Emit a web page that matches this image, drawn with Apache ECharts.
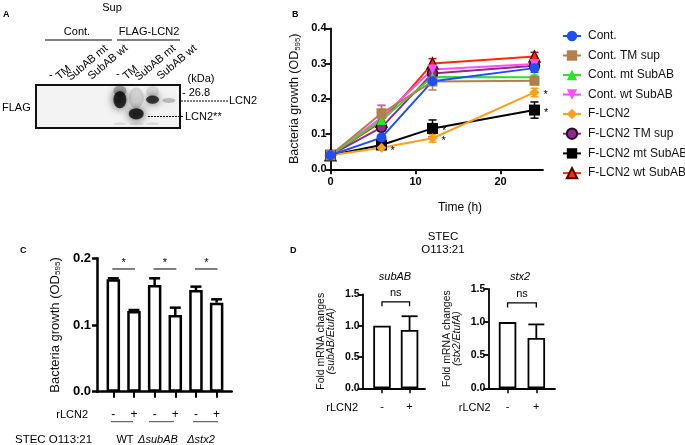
<!DOCTYPE html>
<html><head><meta charset="utf-8">
<script src="https://cdn.jsdelivr.net/npm/echarts@6/dist/echarts.min.js"></script>
<style>html,body{margin:0;padding:0;background:#fff}#c{width:685px;height:445px}</style>
</head><body><div id="c"></div>
<script>
// ---------- DATA ----------
// Panel A (western blot, relative band positions within the membrane: 0 = bottom, 1 = top)
const blotLaneLabels = ['-', 'TM', 'SubAB mt', 'SubAB wt', '-', 'TM', 'SubAB mt', 'SubAB wt'];
const blotBandLane    = [4, 4, 5, 5, 6, 6, 7, 4, 5, 6];
const blotBandPos     = [0.66, 0.86, 0.33, 0.70, 0.66, 0.85, 0.64, 0.10, 0.10, 0.10];
const blotBandSpread  = [0.40, 0.26, 0.26, 0.50, 0.19, 0.26, 0.12, 0.07, 0.07, 0.07];
const blotBandDensity = [0.95, 0.35, 0.97, 0.16, 0.9, 0.12, 0.28, 0.12, 0.12, 0.12];

// Panel B (growth curves)
const timeH = [0, 6, 12, 24];
const seriesNames = ['Cont.', 'Cont. TM sup', 'Cont. mt SubAB', 'Cont. wt SubAB', 'F-LCN2', 'F-LCN2 TM sup', 'F-LCN2 mt SubAB', 'F-LCN2 wt SubAB'];
const contMean   = [0.04, 0.090, 0.250, 0.287];
const contErr    = [0.003, 0.008, 0.010, 0.012];
const contTmMean = [0.04, 0.159, 0.249, 0.251];
const contTmErr  = [0.003, 0.022, 0.024, 0.006];
const contMtMean = [0.04, 0.140, 0.262, 0.261];
const contMtErr  = [0.003, 0.012, 0.010, 0.006];
const contWtMean = [0.04, 0.147, 0.283, 0.299];
const contWtErr  = [0.003, 0.035, 0.010, 0.008];
const flcnMean   = [0.04, 0.061, 0.088, 0.218];
const flcnErr    = [0.003, 0.005, 0.011, 0.012];
const flcnTmMean = [0.04, 0.119, 0.272, 0.294];
const flcnTmErr  = [0.003, 0.010, 0.010, 0.008];
const flcnMtMean = [0.04, 0.069, 0.116, 0.168];
const flcnMtErr  = [0.003, 0.006, 0.024, 0.023];
const flcnWtMean = [0.04, 0.135, 0.300, 0.320];
const flcnWtErr  = [0.003, 0.010, 0.014, 0.012];
const flcnStarIdx   = [1, 2, 3];
const flcnMtStarIdx = [2, 3];
const bTicksX = [0, 10, 20];

// Panel C
const cGroups = ['WT', '\u0394subAB', '\u0394stx2'];
const cRlcn2  = ['-', '+', '-', '+', '-', '+'];
const cMeans  = [0.1685, 0.121, 0.160, 0.115, 0.1525, 0.1335];
const cErrs   = [0.0015, 0.0015, 0.010, 0.011, 0.005, 0.005];
const cSigPairs = [[0, 1, '*'], [2, 3, '*'], [4, 5, '*']];
const cSigLevel = 0.184;

// Panel D
const dRlcn2 = ['-', '+'];
const subabMeans = [1.0, 0.93];
const subabErrs  = [0, 0.22];
const stx2Means  = [1.0, 0.76];
const stx2Errs   = [0, 0.205];
const subabSig = [[0, 1, 'ns']];
const stx2Sig  = [[0, 1, 'ns']];
const subabSigLevel = [1.38, 1.31];
const stx2SigLevel  = [1.29, 1.22];

// ---------- RENDER ----------
const FONT = '"Liberation Sans", Arial, Helvetica, sans-serif';
const chart = echarts.init(document.getElementById('c'), null, {renderer: 'canvas'});

const bMeans = [contMean, contTmMean, contMtMean, contWtMean, flcnMean, flcnTmMean, flcnMtMean, flcnWtMean];
const bErrs  = [contErr, contTmErr, contMtErr, contWtErr, flcnErr, flcnTmErr, flcnMtErr, flcnWtErr];
const bStars = [[], [], [], [], flcnStarIdx, [], flcnMtStarIdx, []];
const bStyles = [
  {color: '#1f4ef5', symbol: 'circle', size: 10},
  {color: '#b0814f', symbol: 'rect', size: 10},
  {color: '#2fe02f', symbol: 'triangle', size: 10},
  {color: '#ff4dff', symbol: 'triangle', size: 10, rotate: 180},
  {color: '#ff9f1c', symbol: 'diamond', size: 10},
  {color: '#8e2a8e', symbol: 'circle', size: 10, border: '#2a062a'},
  {color: '#000000', symbol: 'rect', size: 11},
  {color: '#ff2a00', symbol: 'triangle', size: 11, border: '#4a0800'}
];

function axisBase(w) {
  return {
    axisLine: {show: true, onZero: false, lineStyle: {color: '#000', width: w}},
    axisTick: {show: true, length: 5, lineStyle: {color: '#000', width: w}},
    splitLine: {show: false}
  };
}

function errTwoSided(color) {
  return function (params, api) {
    const x = api.value(0), m = api.value(1), e = api.value(2);
    if (!e) return null;
    const p1 = api.coord([x, m + e]), p2 = api.coord([x, m - e]);
    const cw = 4, st = {stroke: color, lineWidth: 1.5};
    return {type: 'group', children: [
      {type: 'line', shape: {x1: p1[0], y1: p1[1], x2: p2[0], y2: p2[1]}, style: st},
      {type: 'line', shape: {x1: p1[0] - cw, y1: p1[1], x2: p1[0] + cw, y2: p1[1]}, style: st},
      {type: 'line', shape: {x1: p2[0] - cw, y1: p2[1], x2: p2[0] + cw, y2: p2[1]}, style: st}
    ]};
  };
}
function errUp(cw, lw) {
  return function (params, api) {
    const x = api.value(0), m = api.value(1), e = api.value(2);
    if (!e) return null;
    const p1 = api.coord([x, m]), p2 = api.coord([x, m + e]);
    const st = {stroke: '#000', lineWidth: lw};
    return {type: 'group', children: [
      {type: 'line', shape: {x1: p1[0], y1: p1[1], x2: p2[0], y2: p2[1]}, style: st},
      {type: 'line', shape: {x1: p2[0] - cw, y1: p2[1], x2: p2[0] + cw, y2: p2[1]}, style: st}
    ]};
  };
}
function sigLine(color, lw, fs) {
  return function (params, api) {
    const a = api.value(0), b = api.value(1);
    const p1 = api.coord([a, cSigLevel]), p2 = api.coord([b, cSigLevel]);
    return {type: 'group', children: [
      {type: 'line', shape: {x1: p1[0] - 1, y1: p1[1], x2: p2[0] + 1, y2: p2[1]}, style: {stroke: color, lineWidth: lw}},
      {type: 'text', x: (p1[0] + p2[0]) / 2, y: p1[1] - 1, style: {text: cSigPairs[params.dataIndex][2], fontSize: fs, fontFamily: FONT, fill: '#000', align: 'center', verticalAlign: 'bottom'}}
    ]};
  };
}
function bracket(levels, labels) {
  return function (params, api) {
    const a = api.value(0), b = api.value(1);
    const t1 = api.coord([a, levels[0]]), t2 = api.coord([b, levels[0]]);
    const l1 = api.coord([a, levels[1]]), l2 = api.coord([b, levels[1]]);
    return {type: 'group', children: [
      {type: 'polyline', shape: {points: [[l1[0], l1[1]], [t1[0], t1[1]], [t2[0], t2[1]], [l2[0], l2[1]]]}, style: {stroke: '#000', lineWidth: 1.3, fill: null}},
      {type: 'text', x: (t1[0] + t2[0]) / 2, y: t1[1] - 3, style: {text: labels[params.dataIndex][2], fontSize: 11, fontFamily: FONT, fill: '#000', align: 'center', verticalAlign: 'bottom'}}
    ]};
  };
}

const series = [];
// Blot
series.push({
  type: 'scatter', xAxisIndex: 0, yAxisIndex: 0, silent: true, symbol: 'circle',
  data: blotBandLane.map((l, i) => ({
    value: [l, blotBandPos[i]],
    symbolSize: [l === 5 ? 15 : 13, Math.max(3, blotBandSpread[i] * 43)],
    itemStyle: {color: 'rgba(0,0,0,' + blotBandDensity[i] + ')', shadowBlur: 8, shadowColor: 'rgba(0,0,0,' + blotBandDensity[i] + ')'}
  }))
});
// B error bars and lines (reverse order so "Cont." drawn on top)
for (let k = bMeans.length - 1; k >= 0; k--) {
  const st = bStyles[k];
  series.push({
    type: 'custom', name: seriesNames[k] + ' err', xAxisIndex: 1, yAxisIndex: 1, silent: true, z: 2,
    renderItem: errTwoSided(st.color === '#ff2a00' ? '#d01800' : st.color),
    data: timeH.map((t, i) => [t, bMeans[k][i], bErrs[k][i]])
  });
}
for (let k = bMeans.length - 1; k >= 0; k--) {
  const st = bStyles[k];
  series.push({
    type: 'line', name: seriesNames[k], xAxisIndex: 1, yAxisIndex: 1, z: 3,
    symbol: st.symbol, symbolSize: st.size, symbolRotate: st.rotate || 0, showAllSymbol: true,
    color: st.color,
    lineStyle: {color: st.color, width: 2},
    itemStyle: {color: st.color, borderColor: st.border || st.color, borderWidth: st.border ? 1.5 : 0, opacity: 1},
    emphasis: {disabled: true},
    data: timeH.map((t, i) => {
      const item = {value: [t, bMeans[k][i]]};
      if (bStars[k].indexOf(i) >= 0) {
        item.label = {show: true, formatter: '*', position: 'right', distance: 4, fontSize: 11, color: '#000', offset: [0, 3], fontFamily: FONT};
      }
      return item;
    })
  });
}
// C
series.push({
  type: 'bar', xAxisIndex: 2, yAxisIndex: 2, barWidth: 13.5, silent: true,
  itemStyle: {color: '#fff', borderColor: '#000', borderWidth: 2.5},
  data: cMeans.map((v, i) => [i, v])
});
series.push({type: 'custom', xAxisIndex: 2, yAxisIndex: 2, silent: true, z: 3, renderItem: errUp(5.5, 2.5), data: cMeans.map((v, i) => [i, v, cErrs[i]])});
series.push({type: 'custom', xAxisIndex: 2, yAxisIndex: 2, silent: true, renderItem: sigLine('#555', 1.5, 11), data: cSigPairs.map(p => [p[0], p[1]])});
// D1
series.push({
  type: 'bar', xAxisIndex: 3, yAxisIndex: 3, barWidth: 17.5, silent: true,
  itemStyle: {color: '#fff', borderColor: '#000', borderWidth: 1.8},
  data: subabMeans.map((v, i) => [i, v])
});
series.push({type: 'custom', xAxisIndex: 3, yAxisIndex: 3, silent: true, z: 3, renderItem: errUp(8, 1.8), data: subabMeans.map((v, i) => [i, v, subabErrs[i]])});
series.push({type: 'custom', xAxisIndex: 3, yAxisIndex: 3, silent: true, renderItem: bracket(subabSigLevel, subabSig), data: subabSig.map(p => [p[0], p[1]])});
// D2
series.push({
  type: 'bar', xAxisIndex: 4, yAxisIndex: 4, barWidth: 17.5, silent: true,
  itemStyle: {color: '#fff', borderColor: '#000', borderWidth: 1.8},
  data: stx2Means.map((v, i) => [i, v])
});
series.push({type: 'custom', xAxisIndex: 4, yAxisIndex: 4, silent: true, z: 3, renderItem: errUp(8, 1.8), data: stx2Means.map((v, i) => [i, v, stx2Errs[i]])});
series.push({type: 'custom', xAxisIndex: 4, yAxisIndex: 4, silent: true, renderItem: bracket(stx2SigLevel, stx2Sig), data: stx2Sig.map(p => [p[0], p[1]])});

const odName = '{a|Bacteria growth (OD}{s|595}{a|)}';
function odRich(fs) {
  return {
    a: {fontSize: fs, fontFamily: FONT, color: '#111'},
    s: {fontSize: fs * 0.62, fontFamily: FONT, color: '#111', verticalAlign: 'bottom', padding: [fs * 0.35, 0, 0, 0]}
  };
}
function foldRich() {
  return {
    i: {fontSize: 10.5, fontFamily: FONT, fontStyle: 'italic', color: '#111', lineHeight: 10}
  };
}

const xAxis = [
  {gridIndex: 0, type: 'value', min: -1.14, max: 7.68, show: false},
  Object.assign(axisBase(1.8), {
    gridIndex: 1, type: 'value', min: 0, max: 25,
    axisTick: {show: true, length: 5, customValues: bTicksX, lineStyle: {color: '#000', width: 1.8}},
    axisLabel: {customValues: bTicksX, fontWeight: 'bold', fontSize: 11, color: '#000', margin: 7, fontFamily: FONT}
  }),
  Object.assign(axisBase(2.5), {
    gridIndex: 2, type: 'value', min: -0.79, max: 5.73,
    axisTick: {show: true, length: 6, customValues: [0, 1, 2, 3, 4, 5], lineStyle: {color: '#000', width: 2}},
    axisLabel: {customValues: [0, 1, 2, 3, 4, 5], formatter: v => cRlcn2[v], fontSize: 12, color: '#000', margin: 17, fontFamily: FONT}
  }),
  Object.assign(axisBase(1.8), {
    gridIndex: 3, type: 'value', min: -0.70, max: 1.56,
    axisTick: {show: true, length: 5, customValues: [0, 1], lineStyle: {color: '#000', width: 1.5}},
    axisLabel: {customValues: [0, 1], formatter: v => dRlcn2[v], fontSize: 11, color: '#000', margin: 13, fontFamily: FONT}
  }),
  Object.assign(axisBase(1.8), {
    gridIndex: 4, type: 'value', min: -0.67, max: 1.65,
    axisTick: {show: true, length: 5, customValues: [0, 1], lineStyle: {color: '#000', width: 1.5}},
    axisLabel: {customValues: [0, 1], formatter: v => dRlcn2[v], fontSize: 11, color: '#000', margin: 13, fontFamily: FONT}
  })
];
const yAxis = [
  {gridIndex: 0, type: 'value', min: 0, max: 1, show: false},
  Object.assign(axisBase(1.8), {
    gridIndex: 1, type: 'value', min: 0, max: 0.4, interval: 0.1,
    axisLabel: {formatter: v => v.toFixed(1), fontWeight: 'bold', fontSize: 11, color: '#000', margin: 4, fontFamily: FONT},
    name: odName, nameLocation: 'middle', nameGap: 29, nameTextStyle: {rich: odRich(12.5)}
  }),
  Object.assign(axisBase(2.5), {
    gridIndex: 2, type: 'value', min: 0, max: 0.2, interval: 0.1,
    axisLabel: {formatter: v => v.toFixed(1), fontWeight: 'bold', fontSize: 13, color: '#000', margin: 6, fontFamily: FONT},
    name: odName, nameLocation: 'middle', nameGap: 35, nameTextStyle: {rich: odRich(13)}
  }),
  Object.assign(axisBase(1.8), {
    gridIndex: 3, type: 'value', min: 0, max: 1.5, interval: 0.5,
    axisLabel: {formatter: v => v.toFixed(1), fontWeight: 'bold', fontSize: 10.5, color: '#000', margin: 3, fontFamily: FONT},
    name: 'Fold mRNA changes\n{i|(subAB/EtufA)}', nameLocation: 'middle', nameGap: 27,
    nameTextStyle: {fontSize: 10.5, lineHeight: 10, color: '#111', fontFamily: FONT, rich: foldRich()}
  }),
  Object.assign(axisBase(1.8), {
    gridIndex: 4, type: 'value', min: 0, max: 1.5, interval: 0.5,
    axisLabel: {formatter: v => v.toFixed(1), fontWeight: 'bold', fontSize: 10.5, color: '#000', margin: 3, fontFamily: FONT},
    name: 'Fold mRNA changes\n{i|(stx2/EtufA)}', nameLocation: 'middle', nameGap: 26,
    nameTextStyle: {fontSize: 10.5, lineHeight: 10, color: '#111', fontFamily: FONT, rich: foldRich()}
  })
];

function T(x, y, text, o) {
  o = o || {};
  return {
    type: 'text', x: x, y: y, rotation: o.rot || 0, silent: true,
    style: {text: text, fontSize: o.size || 11, fontWeight: o.weight || 'normal', fontStyle: o.style || 'normal',
      fontFamily: FONT, fill: o.color || '#000', align: o.align || 'left', verticalAlign: o.va || 'middle'}
  };
}
function L(x1, y1, x2, y2, o) {
  o = o || {};
  return {type: 'line', silent: true, shape: {x1: x1, y1: y1, x2: x2, y2: y2},
    style: {stroke: o.color || '#000', lineWidth: o.w || 1, lineDash: o.dash || null}};
}
const R = Math.PI / 180 * 40;
const laneAnchors = [[49, 80], [61, 82], [72, 83], [93, 82], [116, 79], [128, 82], [140, 83], [162, 82]];
const graphics = [
  // Panel A
  T(3, 15, 'A', {weight: 'bold', size: 9}),
  T(112, 8, 'Sup', {align: 'center', size: 11}),
  T(77, 32, 'Cont.', {align: 'center'}),
  L(45, 40, 112, 40, {w: 1}),
  T(149, 32, 'FLAG-LCN2', {align: 'center'}),
  L(117, 40, 180, 40, {w: 1}),
  T(201, 79, '(kDa)', {align: 'center'}),
  T(182, 93, '- 26.8', {}),
  L(181, 101, 228, 101, {dash: [2, 1], w: 1}),
  T(229, 101, 'LCN2', {}),
  L(148, 116.5, 184, 116.5, {dash: [2, 1], w: 1}),
  T(185, 116.5, 'LCN2**', {}),
  T(2, 108, 'FLAG', {}),
  // Panel B
  T(292, 15, 'B', {weight: 'bold', size: 9}),
  T(460, 208, 'Time (h)', {align: 'center', size: 12}),
  // Panel C
  T(20, 251, 'C', {weight: 'bold', size: 9}),
  T(88, 415, 'rLCN2', {align: 'right'}),
  L(111, 421.7, 133, 421.7, {color: '#444'}),
  L(149, 421.7, 174, 421.7, {color: '#444'}),
  L(193, 421.7, 218, 421.7, {color: '#444'}),
  T(15, 440, 'STEC O113:21', {size: 11.5}),
  T(125, 440, cGroups[0], {align: 'center'}),
  T(158, 440, cGroups[1], {align: 'center', style: 'italic'}),
  T(201, 440, cGroups[2], {align: 'center', style: 'italic'}),
  // Panel D
  T(290, 251, 'D', {weight: 'bold', size: 9}),
  T(443, 237, 'STEC', {align: 'center', size: 11.5}),
  T(443, 250, 'O113:21', {align: 'center', size: 11.5}),
  T(395, 277, 'subAB', {align: 'center', style: 'italic'}),
  T(520, 277, 'stx2', {align: 'center', style: 'italic'}),
  T(358, 408, 'rLCN2', {align: 'right'}),
  T(490.5, 408, 'rLCN2', {align: 'right'})
];
blotLaneLabels.forEach((s, i) => {
  const a = laneAnchors[i];
  graphics.push(T(a[0], a[1], s, {rot: s === '-' ? 0 : R, va: 'bottom'}));
});

chart.setOption({
  animation: false,
  backgroundColor: '#fff',
  textStyle: {fontFamily: FONT},
  grid: [
    {left: 36, top: 85, width: 144, height: 43, show: true, backgroundColor: '#f3f3f3', borderColor: '#111', borderWidth: 2, outerBoundsMode: 'none', containLabel: false},
    {left: 330.5, top: 28.3, width: 212.5, height: 141, outerBoundsMode: 'none', containLabel: false},
    {left: 97, top: 258.3, width: 134.7, height: 133.4, outerBoundsMode: 'none', containLabel: false},
    {left: 362.7, top: 294.3, width: 62.3, height: 94, outerBoundsMode: 'none', containLabel: false},
    {left: 488.3, top: 289, width: 66.7, height: 99.3, outerBoundsMode: 'none', containLabel: false}
  ],
  legend: {
    data: seriesNames, orient: 'vertical', left: 562, top: 30, padding: 0,
    itemWidth: 18, itemHeight: 13, itemGap: 7.5, selectedMode: false,
    textStyle: {fontSize: 12, color: '#111', fontFamily: FONT, padding: [0, 0, 0, 2]}
  },
  tooltip: {show: false},
  xAxis: xAxis,
  yAxis: yAxis,
  series: series,
  graphic: graphics
});
</script>
</body></html>
